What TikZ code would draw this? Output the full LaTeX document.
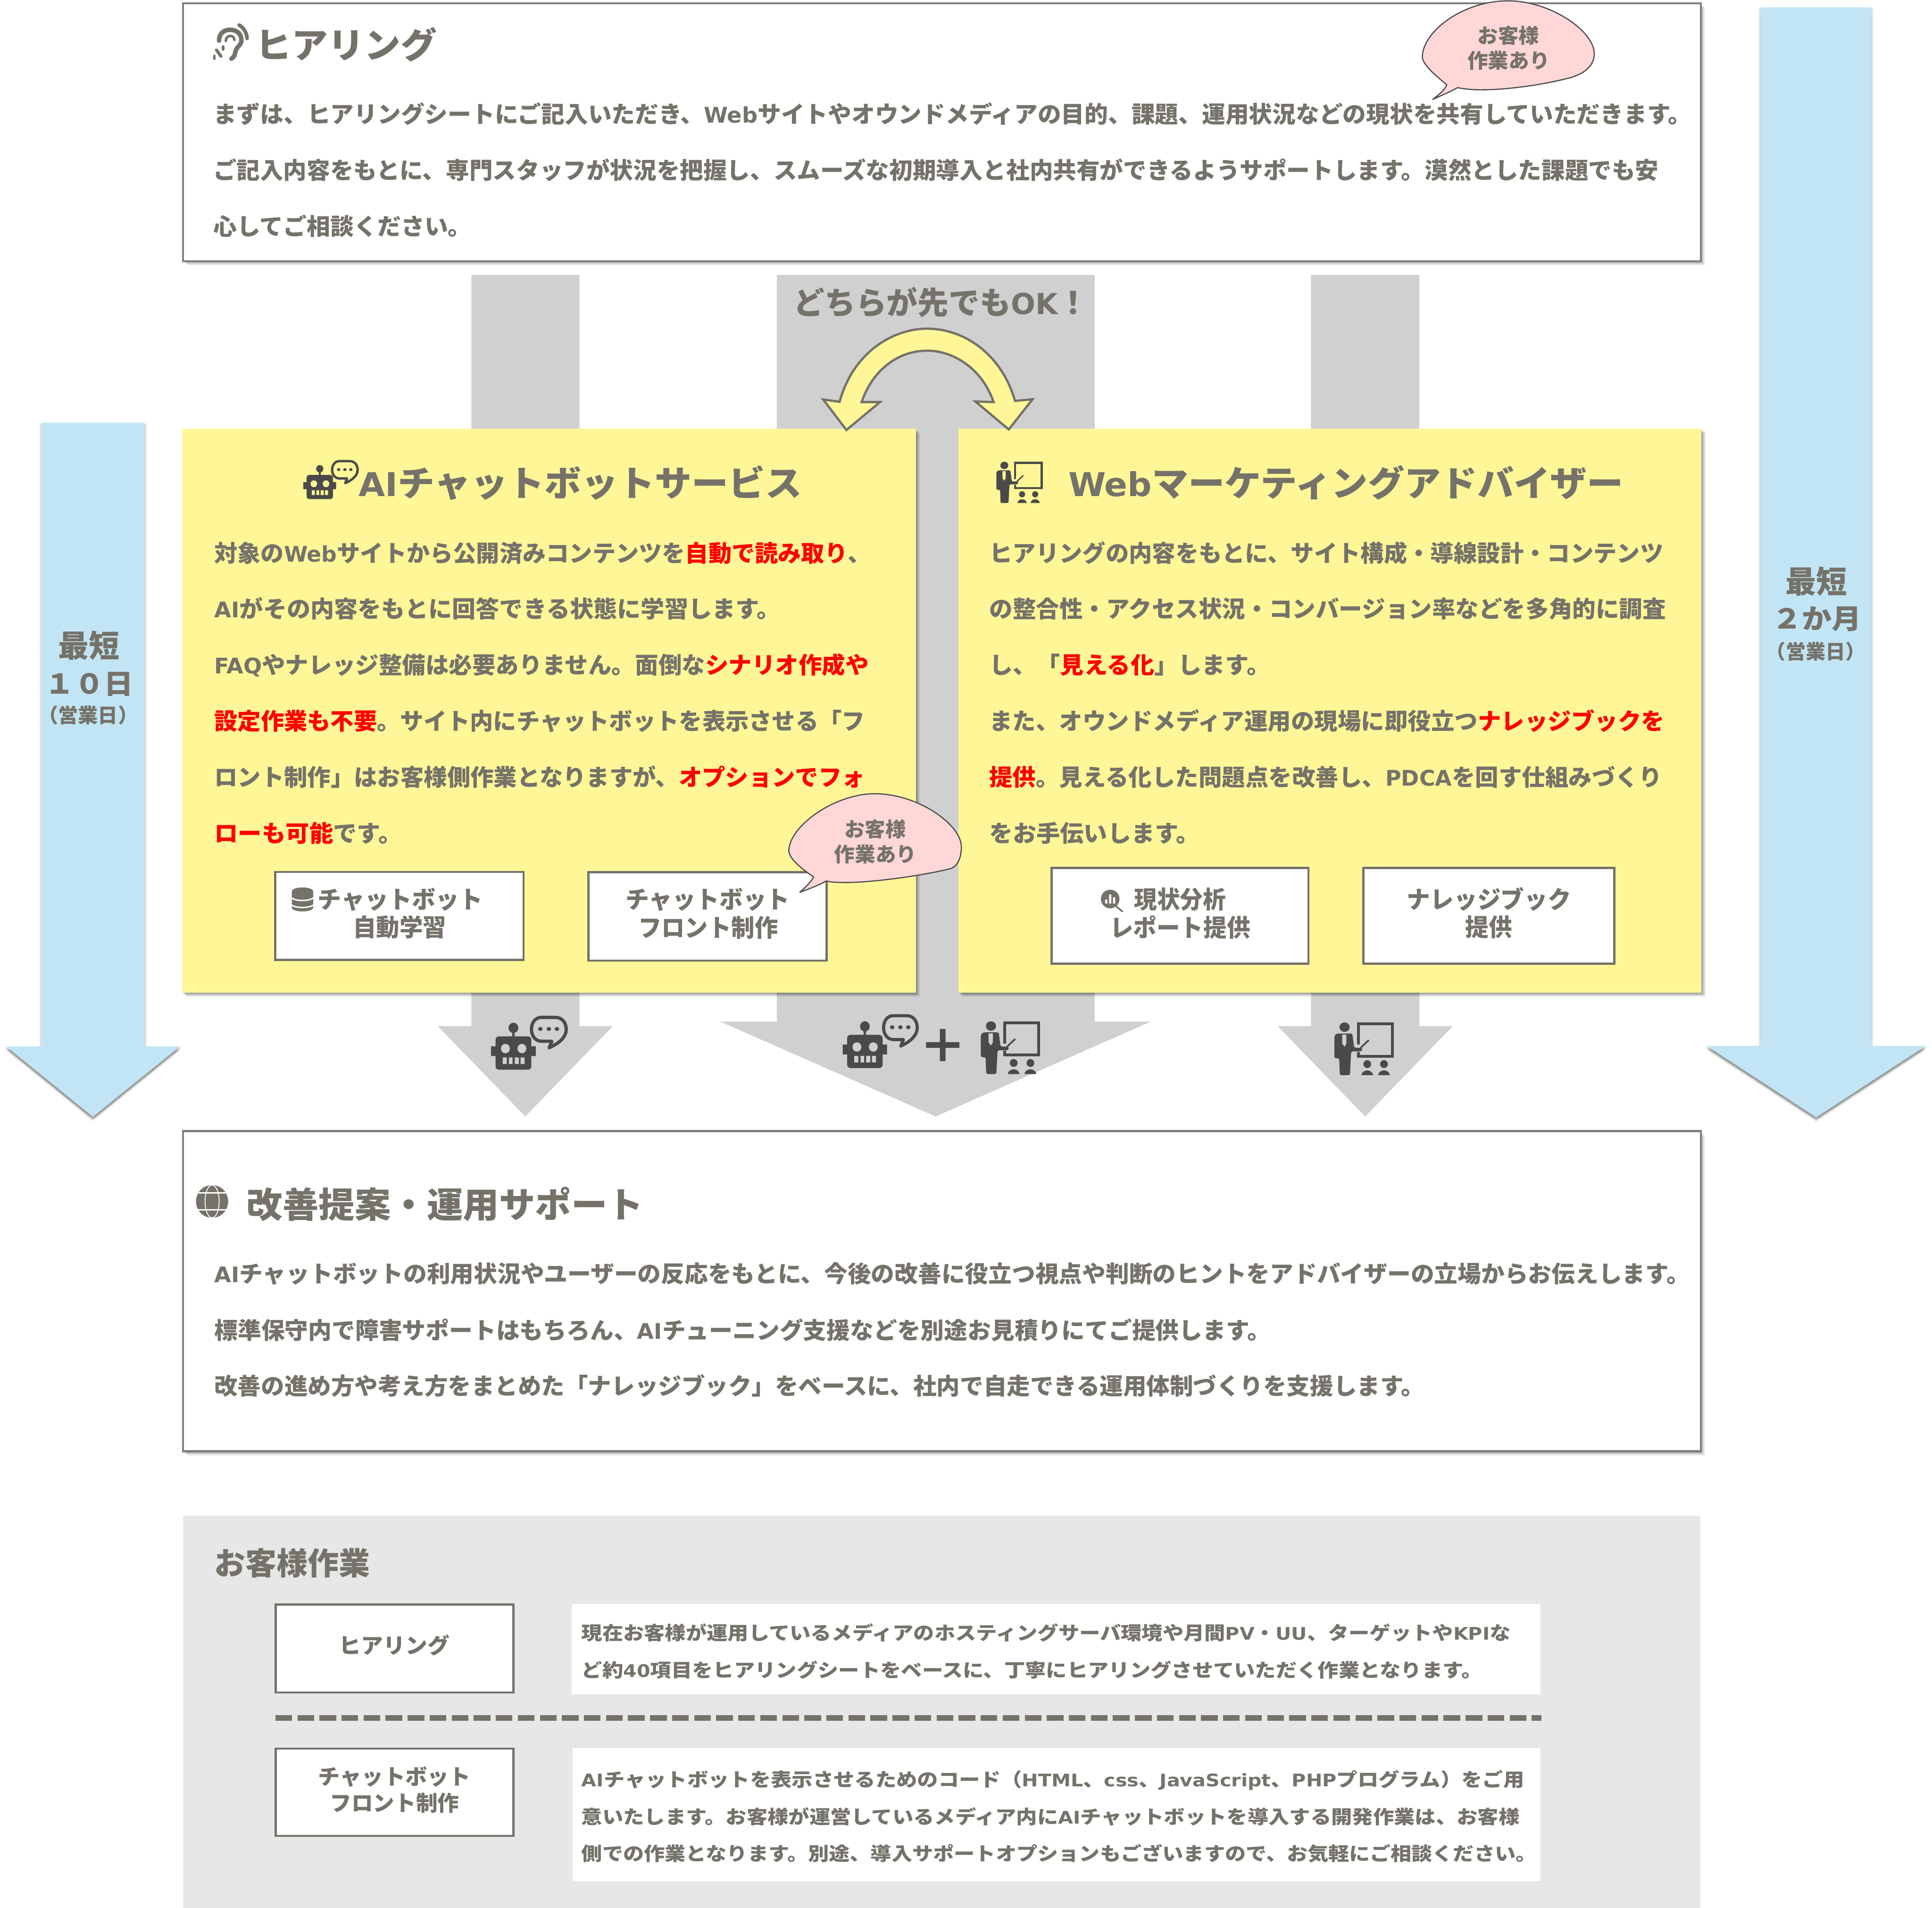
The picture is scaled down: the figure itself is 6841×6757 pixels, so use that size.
\documentclass[tikz,border=0pt]{standalone}
\usepackage{fontspec}
\usepackage{graphicx}
\setmainfont{Noto Sans CJK JP}
\newfontfamily\latfont[Scale=0.93]{DejaVu Sans}
\newcommand\lat[1]{{\latfont #1}}
\definecolor{txtc}{HTML}{75726A}
\definecolor{iconc}{HTML}{4A4A4A}
\definecolor{framec}{HTML}{7F7F7F}
\definecolor{arrowgrey}{HTML}{D0D0D0}
\definecolor{panelyellow}{HTML}{FFF797}
\definecolor{skyblue}{HTML}{C2E5F5}
\definecolor{pinkc}{HTML}{FFD7D7}
\definecolor{panelgrey}{HTML}{E7E7E7}
\newlength\pxu \setlength\pxu{0.01cm}
\newcommand\rd[1]{\textcolor{red}{#1}}
\newcommand\tline[6]{%
  \pgfmathsetmacro\bly{#3+0.42*#5}%
  \pgfmathsetmacro\fsz{#5*0.28453}%
  \node[txtnode,anchor=base west] (#1) at (#2,\bly) {\resizebox{#4\pxu}{\height}{\fontsize{\fsz}{\fsz}\selectfont #6}};%
}
\newcommand\softshadow[1]{\foreach \s/\o in {3/.10,6/.10,9/.09,12/.07,15/.05}{\fill[black,opacity=\o,shift={(\s,\s)}] #1;}}
\newcommand\softshadowdown[1]{\foreach \a/\b/\o in {-7/2/.05,7/2/.05,-5/6/.08,5/6/.08,0/9/.14,0/13/.10,0/17/.05}{\fill[black,opacity=\o,shift={(\a,\b)}] #1;}}
% icons: placed in a box x,y,w,h, drawn in a 100x100 grid
\newcommand\robot[4]{\begin{scope}[shift={(#1,#2)},x=#3*0.0001cm,y=-#4*0.0001cm]
 \fill[iconc] (50,11) ellipse (11 and 11);
 \fill[iconc] (47,18) rectangle (53,32);
 \fill[iconc,rounded corners=#3*0.0008cm] (10,29) rectangle (90,100);
 \fill[iconc] (0,50) rectangle (12,71) (88,50) rectangle (100,71);
 \fill[eyecol] (32,55) ellipse (10 and 10) (69,55) ellipse (10 and 10);
 \fill[eyecol] (26,74) rectangle (35,88) (40,74) rectangle (48,88) (53,74) rectangle (62,88) (66,74) rectangle (75,88);
\end{scope}}
\newcommand\chatbubble[4]{\begin{scope}[shift={(#1,#2)},x=#3*0.0001cm,y=-#4*0.0001cm]
 \draw[iconc,line width=#3*0.0009cm,line join=round] (30,6) -- (67,6) .. controls (85,6) and (95,22) .. (95,41) .. controls (95,65) and (75,83) .. (51,95) -- (58,76) -- (31,76) .. controls (15,76) and (5,60) .. (5,41) .. controls (5,22) and (15,6) .. (30,6) -- cycle;
 \fill[iconc] (28,40) circle (6) (50,40) circle (6) (71,40) circle (6);
\end{scope}}
\newcommand\teacher[4]{\begin{scope}[shift={(#1,#2)},x=#3*0.0001cm,y=-#4*0.0001cm]
 \fill[iconc] (17,9) ellipse (8.5 and 9);
 \fill[iconc,rounded corners=#3*0.0003cm] (0,25) -- (4,21) -- (30,21) -- (33,48) -- (47,48) -- (46,55) -- (28,55) -- (26,100) -- (9,100) -- (8,68) -- (0,68) -- cycle;
 \fill[eyecol] (13,23) -- (20,23) -- (20,40) -- (17,46) -- (13,40) -- cycle;
 \draw[iconc,line width=#3*0.0005cm] (40,42) -- (40,3) -- (97,3) -- (97,64) -- (40,64) -- (40,56);
 \draw[iconc,line width=#3*0.0003cm,line cap=round] (44,48) -- (57,34);
 \fill[iconc] (55,79) ellipse (6.5 and 7.5) (83,79) ellipse (6.5 and 7.5);
 \fill[iconc] (45,100) .. controls (47,88) and (63,88) .. (65,100) -- cycle;
 \fill[iconc] (73,100) .. controls (75,88) and (91,88) .. (93,100) -- cycle;
\end{scope}}
\tikzset{
  txtnode/.style={inner sep=0pt,outer sep=0pt,text=txtc,font=\bfseries},
  framed/.style={draw=framec,line width=0.07cm,fill=white},
  smallbox/.style={draw=txtc,line width=0.08cm,fill=white},
  blockgrey/.style={fill=arrowgrey},
  blockblue/.style={fill=skyblue},
  callout/.style={fill=pinkc,draw=iconc,line width=0.04cm,line join=round},
  swapicon/.style={fill=panelyellow,draw=txtc,line width=0.08cm,line join=miter},
  eyecol/.style={fill=arrowgrey}
}
\begin{document}
\begin{tikzpicture}[x=0.01cm,y=-0.01cm]
\useasboundingbox (0,0) rectangle (6841,6757);
\fill[white] (0,0) rectangle (6841,6757);
% grey block arrows
\fill[blockgrey] (1669,974) -- (2052,974) -- (2052,3634) -- (2170,3634) -- (1860,3954) -- (1550,3634) -- (1669,3634) -- cycle;
\fill[blockgrey] (2751,974) -- (3876,974) -- (3876,3618) -- (4075,3618) -- (3313,3954) -- (2550,3618) -- (2751,3618) -- cycle;
\fill[blockgrey] (4642,974) -- (5026,974) -- (5026,3634) -- (5144,3634) -- (4834,3954) -- (4524,3634) -- (4642,3634) -- cycle;
% blue arrows
\softshadowdown{(147,1497) -- (512,1497) -- (512,3706) -- (637,3706) -- (329,3955) -- (22,3706) -- (147,3706) -- cycle}
\fill[blockblue] (147,1497) -- (512,1497) -- (512,3706) -- (637,3706) -- (329,3955) -- (22,3706) -- (147,3706) -- cycle;
\softshadowdown{(6234,26) -- (6626,26) -- (6626,3704) -- (6819,3704) -- (6431,3957) -- (6043,3704) -- (6234,3704) -- cycle}
\fill[blockblue] (6234,26) -- (6626,26) -- (6626,3704) -- (6819,3704) -- (6431,3957) -- (6043,3704) -- (6234,3704) -- cycle;
\tline{ltimeA}{206}{2282}{217}{109}{最短}
\tline{ltimeB}{160}{2417}{312}{97}{１０日}
\tline{ltimeC}{136}{2530}{352}{70}{（営業日）}
\tline{rtimeA}{6322}{2055}{218}{109}{最短}
\tline{rtimeB}{6275}{2186}{316}{97}{２か月}
\tline{rtimeC}{6253}{2304}{352}{70}{（営業日）}
% top box
\softshadow{(648,12) rectangle (6022,925)}
\draw[framed] (648,12) rectangle (6022,925);
% ear icon
\begin{scope}[shift={(752,85)},x=0.0132cm,y=-0.0128cm,line cap=round,draw=txtc]
 \draw[line width=0.16cm] (18,46) .. controls (18,25) and (32,16) .. (47,16) .. controls (68,16) and (78,30) .. (78,45) .. controls (78,58) and (66,62) .. (62,75) .. controls (60,85) and (60,90) .. (51,96);
 \draw[line width=0.09cm] (36,47) .. controls (36,38) and (42,33) .. (48,33) .. controls (54,33) and (59,38) .. (59,44);
 \draw[line width=0.13cm] (72,3) .. controls (84,10) and (93,26) .. (93,40);
 \draw[line width=0.11cm] (29,63) -- (29,70);
 \draw[line width=0.11cm] (11,72) -- (23,89);
 \draw[line width=0.09cm] (5,88) -- (5,96);
\end{scope}
\tline{hearTitle}{905}{154}{642}{125}{ヒアリング}
\tline{hearA}{755}{401}{5235}{82}{まずは、ヒアリングシートにご記入いただき、\lat{Web}サイトやオウンドメディアの目的、課題、運用状況などの現状を共有していただきます。}
\tline{hearB}{755}{600}{5118}{82}{ご記入内容をもとに、専門スタッフが状況を把握し、スムーズな初期導入と社内共有ができるようサポートします。漠然とした課題でも安}
\tline{hearC}{755}{798}{915}{82}{心してご相談ください。}
% callout 1
\draw[callout] (5123,300) .. controls (5060,250) and (5036,220) .. (5036,200) .. controls (5040,110) and (5180,3) .. (5340,3) .. controls (5490,3) and (5645,110) .. (5645,190) .. controls (5645,240) and (5600,262) .. (5568,273) .. controls (5470,300) and (5330,320) .. (5228,318) .. controls (5195,316) and (5175,314) .. (5162,310) .. controls (5135,325) and (5100,340) .. (5073,352) .. controls (5095,335) and (5115,320) .. (5123,300) -- cycle;
\tline{coA}{5232}{123}{218}{71}{お客様}
\tline{coB}{5196}{212}{292}{71}{作業あり}
% header of the middle arrow and swap arrow
\tline{eitherOK}{2810}{1067}{1045}{110}{どちらが先でも\lat{OK}！}
% yellow boxes
\softshadow{(645,1519) rectangle (3243,3516)}
\fill[panelyellow] (645,1519) rectangle (3243,3516);
\softshadow{(3393,1519) rectangle (6025,3516)}
\fill[panelyellow] (3393,1519) rectangle (6025,3516);
\draw[swapicon] (2973,1423) .. controls (3020,1250) and (3160,1164) .. (3283,1164) .. controls (3410,1164) and (3545,1250) .. (3594,1420) -- (3656,1414) -- (3572,1521) -- (3454,1422) -- (3518,1424) .. controls (3480,1310) and (3380,1242) .. (3283,1242) .. controls (3180,1242) and (3090,1310) .. (3051,1424) -- (3116,1424) -- (2997,1523) -- (2915,1415) -- cycle;
% left panel
\begin{scope}[eyecol/.style={fill=panelyellow}]
\robot{1074}{1647}{109}{113}
\chatbubble{1171}{1628}{94}{82}
\teacher{3528}{1635}{155}{137}
\end{scope}
\tline{aiTitle}{1270}{1706}{1570}{125}{\lat{AI}チャットボットサービス}
\tline{aiA}{759}{1955}{2325}{82}{対象の\lat{Web}サイトから公開済みコンテンツを\rd{自動で読み取り}、}
\tline{aiB}{759}{2153}{2005}{82}{\lat{AI}がその内容をもとに回答できる状態に学習します。}
\tline{aiC}{759}{2352}{2317}{82}{\lat{FAQ}やナレッジ整備は必要ありません。面倒な\rd{シナリオ作成や}}
\tline{aiD}{759}{2550}{2304}{82}{\rd{設定作業も不要}。サイト内にチャットボットを表示させる「フ}
\tline{aiE}{759}{2749}{2304}{82}{ロント制作」はお客様側作業となりますが、\rd{オプションでフォ}}
\tline{aiF}{759}{2947}{665}{82}{\rd{ローも可能}です。}
\draw[smallbox] (975,3088) rectangle (1854,3399);
\draw[smallbox] (2084,3089) rectangle (2927,3402);
% db icon
\fill[txtc] (1033,3158) .. controls (1033,3138) and (1109,3138) .. (1109,3158) -- (1109,3213) .. controls (1109,3233) and (1033,3233) .. (1033,3213) -- cycle;
\draw[white,line width=0.05cm] (1033,3180) .. controls (1045,3192) and (1097,3192) .. (1109,3180);
\draw[white,line width=0.05cm] (1033,3205) .. controls (1045,3217) and (1097,3217) .. (1109,3205);
\tline{bA}{1125}{3182}{585}{86}{チャットボット}
\tline{bB}{1250}{3280}{330}{86}{自動学習}
\tline{bC}{2215}{3182}{582}{86}{チャットボット}
\tline{bD}{2260}{3282}{495}{86}{フロント制作}
% callout 2
\draw[callout] (2881,3106) .. controls (2830,3070) and (2793,3040) .. (2793,3010) .. controls (2800,2920) and (2960,2811) .. (3097,2811) .. controls (3250,2811) and (3404,2920) .. (3404,2999) .. controls (3404,3040) and (3390,3065) .. (3370,3075) .. controls (3300,3095) and (3080,3130) .. (2972,3125) .. controls (2955,3125) and (2940,3124) .. (2926,3120) .. controls (2900,3135) and (2860,3150) .. (2832,3160) .. controls (2850,3145) and (2870,3125) .. (2881,3106) -- cycle;
\tline{coC}{2990}{2934}{218}{71}{お客様}
\tline{coD}{2954}{3022}{292}{71}{作業あり}
% right panel
\tline{webTitle}{3783}{1706}{1965}{125}{\lat{Web}マーケティングアドバイザー}
\tline{wA}{3503}{1955}{2387}{82}{ヒアリングの内容をもとに、サイト構成・導線設計・コンテンツ}
\tline{wB}{3503}{2153}{2396}{82}{の整合性・アクセス状況・コンバージョン率などを多角的に調査}
\tline{wC}{3503}{2352}{995}{82}{し、「\rd{見える化}」します。}
\tline{wD}{3503}{2550}{2391}{82}{また、オウンドメディア運用の現場に即役立つ\rd{ナレッジブックを}}
\tline{wE}{3503}{2749}{2382}{82}{\rd{提供}。見える化した問題点を改善し、\lat{PDCA}を回す仕組みづくり}
\tline{wF}{3503}{2947}{745}{82}{をお手伝いします。}
\draw[smallbox] (3724,3074) rectangle (4633,3413);
\draw[smallbox] (4827,3074) rectangle (5716,3413);
% magnifier
\draw[txtc,line width=0.06cm,line cap=round] (3950,3208) -- (3974,3228);
\fill[txtc] (3931,3184) circle (33);
\fill[white] (3913,3186) rectangle (3921,3200) (3927,3168) rectangle (3935,3200) (3941,3178) rectangle (3949,3200);
\tline{wbA}{4016}{3182}{325}{86}{現状分析}
\tline{wbB}{3930}{3282}{497}{86}{レポート提供}
\tline{wbC}{4982}{3182}{581}{86}{ナレッジブック}
\tline{wbD}{5188}{3280}{166}{86}{提供}
% icons on grey arrows
\robot{1739}{3622}{148}{156}
\chatbubble{1875}{3596}{128}{113}
\robot{2984}{3617}{147}{155}
\chatbubble{3122}{3590}{124}{113}
\fill[iconc] (3279,3691) rectangle (3397,3711) (3328,3644) rectangle (3348,3758);
\teacher{3473}{3617}{198}{175}
\teacher{4725}{3621}{198}{175}
% middle box
\softshadow{(648,4006) rectangle (6022,5140)}
\draw[framed] (648,4006) rectangle (6022,5140);
% globe
\fill[txtc] (751,4255) ellipse (57 and 58);
\draw[white,line width=0.03cm] (751,4255) ellipse (25 and 58);
\draw[white,line width=0.05cm] (694,4225) -- (808,4225) (694,4285) -- (808,4285);
\tline{impTitle}{873}{4261}{1405}{125}{改善提案・運用サポート}
\tline{impA}{759}{4507}{5225}{82}{\lat{AI}チャットボットの利用状況やユーザーの反応をもとに、今後の改善に役立つ視点や判断のヒントをアドバイザーの立場からお伝えします。}
\tline{impB}{759}{4708}{3740}{82}{標準保守内で障害サポートはもちろん、\lat{AI}チューニング支援などを別途お見積りにてご提供します。}
\tline{impC}{759}{4905}{4285}{82}{改善の進め方や考え方をまとめた「ナレッジブック」をベースに、社内で自走できる運用体制づくりを支援します。}
% bottom panel
\fill[panelgrey] (648,5368) rectangle (6021,6757);
\tline{workTitle}{759}{5532}{552}{110}{お客様作業}
\draw[smallbox] (976,5683) rectangle (1818,5994);
\draw[smallbox] (976,6193) rectangle (1818,6502);
\fill[white] (2024,5681) rectangle (5454,6001);
\fill[white] (2027,6191) rectangle (5454,6663);
\tline{wlA}{1200}{5825}{392}{76}{ヒアリング}
\tline{wlB}{1127}{6288}{540}{76}{チャットボット}
\tline{wlC}{1168}{6382}{458}{76}{フロント制作}
\tline{dA}{2059}{5781}{3290}{66}{現在お客様が運用しているメディアのホスティングサーバ環境や月間\lat{PV}・\lat{UU}、ターゲットや\lat{KPI}な}
\tline{dB}{2059}{5912}{3190}{66}{ど約\lat{40}項目をヒアリングシートをベースに、丁寧にヒアリングさせていただく作業となります。}
\tline{dC}{2059}{6300}{3338}{66}{\lat{AI}チャットボットを表示させるためのコード（\lat{HTML}、\lat{css}、\lat{JavaScript}、\lat{PHP}プログラム）をご用}
\tline{dD}{2059}{6431}{3321}{66}{意いたします。お客様が運営しているメディア内に\lat{AI}チャットボットを導入する開発作業は、お客様}
\tline{dE}{2059}{6562}{3382}{66}{側での作業となります。別途、導入サポートオプションもございますので、お気軽にご相談ください。}
\draw[txtc,line width=0.2cm,dash pattern=on 0.59cm off 0.19cm] (975,6084) -- (5458,6084);
\end{tikzpicture}
\end{document}
